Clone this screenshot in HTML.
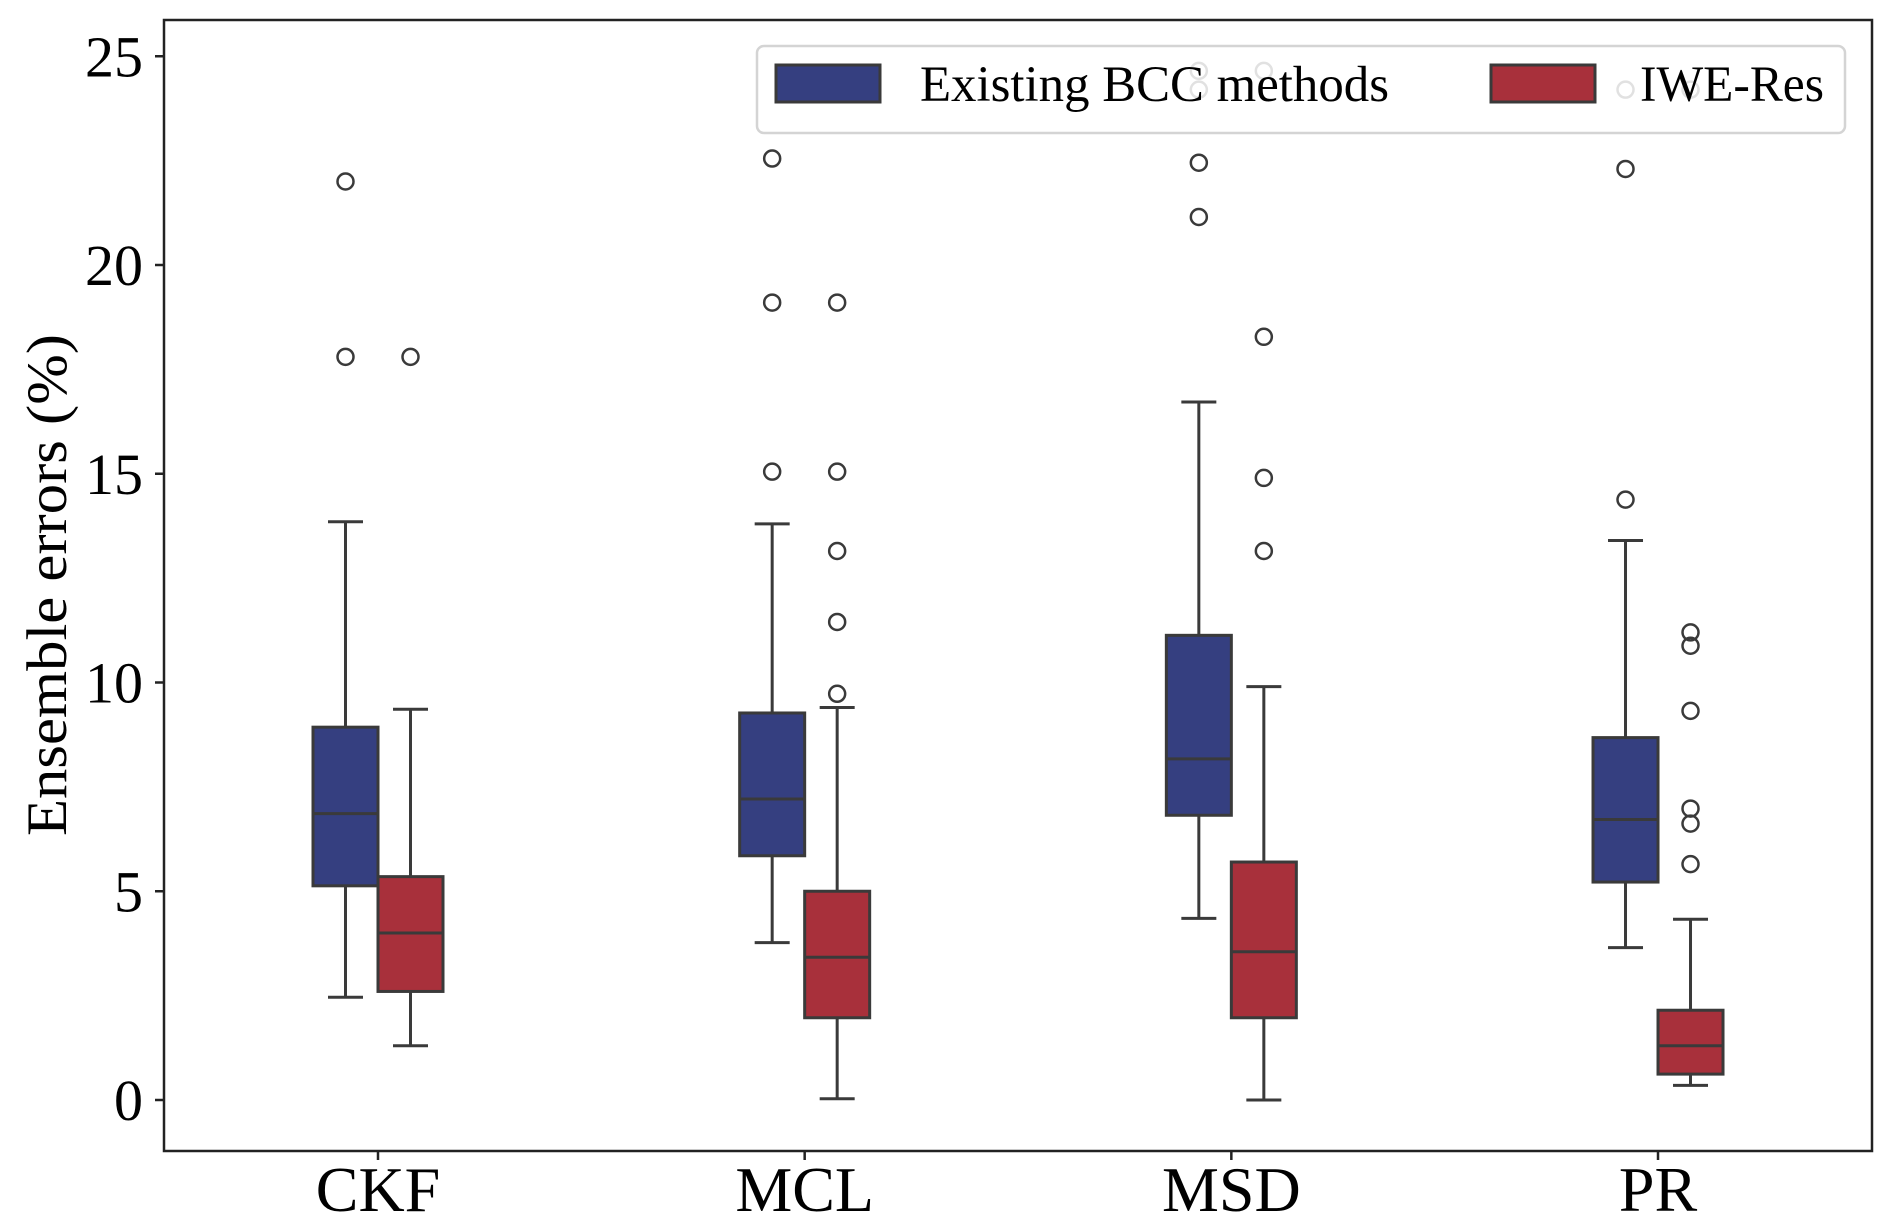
<!DOCTYPE html>
<html><head><meta charset="utf-8"><style>
html,body{margin:0;padding:0;background:#fff;}
svg{display:block;font-family:"Liberation Serif","DejaVu Serif",serif;}
</style></head><body>
<svg id="chart" width="1892" height="1231" viewBox="0 0 1892 1231" xmlns="http://www.w3.org/2000/svg">
<g id="plot"></g>
<g id="axes"></g>
<g id="legend"></g>
</svg>
<script>
const categories = ["CKF","MCL","MSD","PR"];
const seriesNames = ["Existing BCC methods","IWE-Res"];
const seriesColors = ["#353f80","#a8303b"];
// [whiskerLow, Q1, median, Q3, whiskerHigh]
const existingStats = [[2.46,5.13,6.86,8.93,13.85],[3.77,5.85,7.21,9.27,13.8],[4.35,6.82,8.17,11.13,16.72],[3.65,5.22,6.72,8.68,13.4]];
const iweStats = [[1.3,2.6,4.0,5.35,9.36],[0.03,1.97,3.42,5.0,9.4],[0.0,1.97,3.55,5.7,9.9],[0.35,0.62,1.3,2.15,4.33]];
const existingOutliers = [[17.8,22.0],[15.05,19.1,22.55],[21.15,22.45,24.2,24.65],[14.38,22.3,24.2]];
const iweOutliers = [[17.8],[9.73,11.45,13.15,15.05,19.1],[13.15,14.9,18.28,24.65],[5.65,6.62,6.98,9.32,10.88,11.2,24.2]];
const yTicks = [0,5,10,15,20,25];

const NS="http://www.w3.org/2000/svg";
const L=164,R=1872,T=20,B=1151;
const y0px=1100,pxPerUnit=41.75;
function yScale(v){return y0px - v*pxPerUnit;}
function xScale(i){return 378 + i*426.67;}
const boxW=65, capW=35, ink="#3a3a3a";
function mk(tag,attrs,parent){const e=document.createElementNS(NS,tag);for(const k in attrs)e.setAttribute(k,attrs[k]);parent.appendChild(e);return e;}
const plot=document.getElementById('plot');
const axes=document.getElementById('axes');
const legend=document.getElementById('legend');

const allStats=[existingStats,iweStats];
const allOut=[existingOutliers,iweOutliers];
for(let s=0;s<2;s++){
  for(let i=0;i<categories.length;i++){
    const st=allStats[s][i];
    const cx=xScale(i)+(s===0?-32.5:32.5);
    const g=mk('g',{},plot);
    
    
    mk('line',{x1:cx,x2:cx,y1:yScale(st[0]),y2:yScale(st[1]),stroke:ink,'stroke-width':3},g);
    mk('line',{x1:cx,x2:cx,y1:yScale(st[3]),y2:yScale(st[4]),stroke:ink,'stroke-width':3},g);
    mk('line',{x1:cx-capW/2,x2:cx+capW/2,y1:yScale(st[0]),y2:yScale(st[0]),stroke:ink,'stroke-width':3},g);
    mk('line',{x1:cx-capW/2,x2:cx+capW/2,y1:yScale(st[4]),y2:yScale(st[4]),stroke:ink,'stroke-width':3},g);
    mk('rect',{x:cx-boxW/2,y:yScale(st[3]),width:boxW,height:yScale(st[1])-yScale(st[3]),fill:seriesColors[s],stroke:ink,'stroke-width':3},g);
    mk('line',{x1:cx-boxW/2,x2:cx+boxW/2,y1:yScale(st[2]),y2:yScale(st[2]),stroke:ink,'stroke-width':3},g);
    for(const v of allOut[s][i]){
      const c=mk('circle',{cx:cx,cy:yScale(v),r:8,fill:'none',stroke:ink,'stroke-width':2.5},g);
      
      
    }
  }
}
// frame
const fr=mk('rect',{x:L,y:T,width:R-L,height:B-T,fill:'none',stroke:'#222','stroke-width':2.5},axes);


for(const t of yTicks){
  const y=yScale(t);
  mk('line',{x1:L-9,x2:L,y1:y,y2:y,stroke:'#222','stroke-width':2.5},axes);
  const tx=mk('text',{x:143,y:y+20,'text-anchor':'end','font-size':58,fill:'#000'},axes);
  tx.textContent=t;
  
  
}
for(let i=0;i<categories.length;i++){
  const x=xScale(i);
  mk('line',{x1:x,x2:x,y1:B,y2:B+9,stroke:'#222','stroke-width':2.5},axes);
  const tx=mk('text',{x:x,y:1211,'text-anchor':'middle','font-size':64,fill:'#000'},axes);
  tx.textContent=categories[i];
  
  
}
const yt=mk('text',{x:0,y:0,transform:'translate(66,585) rotate(-90)','text-anchor':'middle','font-size':57,fill:'#000',textLength:502,lengthAdjust:'spacingAndGlyphs'},axes);
yt.textContent='Ensemble errors (%)';



// legend
const lb=mk('rect',{x:757,y:46,width:1088,height:87,rx:7,fill:'#fff','fill-opacity':0.85,stroke:'#d4d4d4','stroke-width':2.5},legend);


const patchX=[776,1491], textX=[920,1640], textLen=[469,184];
for(let s=0;s<2;s++){
  const g=mk('g',{},legend);
  
  
  mk('rect',{x:patchX[s],y:65,width:104,height:37,fill:seriesColors[s],stroke:ink,'stroke-width':3},g);
  const t=mk('text',{x:textX[s],y:101,'font-size':51,fill:'#000',textLength:textLen[s],lengthAdjust:'spacingAndGlyphs'},g);
  t.textContent=seriesNames[s];
}
</script>
</body></html>
